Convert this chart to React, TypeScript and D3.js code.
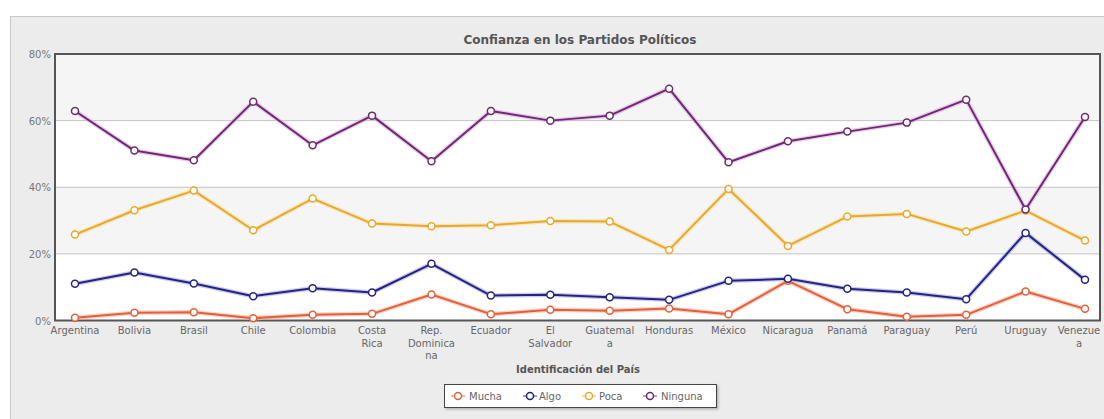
import React from "react";
import * as d3 from "d3";

const countries = ["Argentina","Bolivia","Brasil","Chile","Colombia","Costa Rica","Rep. Dominicana","Ecuador","El Salvador","Guatemala","Honduras","México","Nicaragua","Panamá","Paraguay","Perú","Uruguay","Venezuela"];
const countryLabels = [["Argentina"],["Bolivia"],["Brasil"],["Chile"],["Colombia"],["Costa","Rica"],["Rep.","Dominica","na"],["Ecuador"],["El","Salvador"],["Guatemal","a"],["Honduras"],["México"],["Nicaragua"],["Panamá"],["Paraguay"],["Perú"],["Uruguay"],["Venezue","a"]];

const mucha = [0.8,2.3,2.5,0.7,1.7,2.0,7.8,1.9,3.2,2.9,3.6,1.9,11.9,3.4,1.1,1.7,8.7,3.5];
const algo = [11.0,14.4,11.1,7.3,9.7,8.4,17.0,7.5,7.7,7.0,6.2,11.9,12.5,9.5,8.4,6.4,26.3,12.2];
const poca = [25.8,33.1,39.0,27.1,36.6,29.1,28.3,28.6,29.9,29.7,21.2,39.5,22.4,31.2,32.0,26.7,33.0,24.0];
const ninguna = [62.9,51.0,48.1,65.7,52.6,61.5,47.8,62.9,60.0,61.5,69.6,47.5,53.8,56.7,59.4,66.3,33.3,61.1];

const yTicks = [0, 20, 40, 60, 80];
const seriesNames = ["Mucha", "Algo", "Poca", "Ninguna"];
const seriesValues = [mucha, algo, poca, ninguna];
const seriesColors = ["#e2603b", "#25247f", "#e8a92a", "#6b2b6e"];
const glowColors = ["#f6b3a0", "#a9a9e6", "#f6dca0", "#e0a8e4"];

const FONT = "'DejaVu Sans', Verdana, sans-serif";

export default function App() {
  const plotL = 55, plotR = 1100, plotT = 54, plotB = 320.5;
  const x = d3.scalePoint<string>().domain(countries).range([75, 1085]);
  const y = d3.scaleLinear().domain([0, 80]).range([plotB, plotT]);
  const line = d3.line<number>().x((_, i) => x(countries[i]) as number).y((d) => y(d));

  const bands = [[60, 80, "#f5f5f5"], [40, 60, "#ffffff"], [20, 40, "#f5f5f5"], [0, 20, "#ffffff"]] as const;

  const legendX = [458, 530, 589, 650];
  const legendTextX = [469, 539, 599, 661];

  return (
    <svg width={1104} height={419} style={{ position: "absolute", left: 0, top: 0, fontFamily: FONT }}>
      <defs>
        <filter id="shadow" x="-10%" y="-30%" width="120%" height="160%">
          <feDropShadow dx="1.5" dy="1.5" stdDeviation="1" floodColor="#000" floodOpacity="0.25" />
        </filter>
      </defs>
      <rect x={0} y={0} width={1104} height={419} fill="#ffffff" />
      <rect x={10.5} y={16.5} width={1110} height={420} fill="#ececec" stroke="#c8c8c8" strokeWidth={1} />
      <text x={580} y={44} textAnchor="middle" fontSize={12} fontWeight="bold" fill="#555">
        Confianza en los Partidos Políticos
      </text>
      {bands.map(([a, b, c], i) => (
        <rect key={i} x={plotL} y={y(b)} width={plotR - plotL} height={y(a) - y(b)} fill={c} />
      ))}
      {[20, 40, 60].map((t) => (
        <line key={t} x1={plotL} x2={plotR} y1={y(t)} y2={y(t)} stroke="#c4c4c4" strokeWidth={1} />
      ))}
      <rect x={plotL} y={plotT} width={plotR - plotL} height={plotB - plotT} fill="none" stroke="#555" strokeWidth={2} />
      {yTicks.map((t) => (
        <text key={t} x={51} y={y(t) + 4} textAnchor="end" fontSize={10} fill="#777">
          {t}%
        </text>
      ))}
      {countryLabels.map((lines, i) => {
        const cx = Math.min(x(countries[i]) as number, 1079);
        return (
          <text key={i} x={cx} y={334} textAnchor="middle" fontSize={10} fill="#666">
            {lines.map((l, j) => (
              <tspan key={j} x={cx} dy={j === 0 ? 0 : 12.5}>{l}</tspan>
            ))}
          </text>
        );
      })}
      <text x={578} y={373} textAnchor="middle" fontSize={10} fontWeight="bold" fill="#555">
        Identificación del País
      </text>
      {seriesValues.map((vals, s) => (
        <g key={s}>
          <path d={line(vals) || ""} fill="none" stroke={glowColors[s]} strokeWidth={4.5} strokeOpacity={0.6} strokeLinejoin="round" />
          <path d={line(vals) || ""} fill="none" stroke={seriesColors[s]} strokeWidth={2} strokeLinejoin="round" />
          {vals.map((v, i) => (
            <circle key={i} cx={x(countries[i]) as number} cy={y(v)} r={3.5} fill="#fff" stroke={seriesColors[s]} strokeWidth={1.5} />
          ))}
        </g>
      ))}
      <rect x={444.5} y={384.5} width={272} height={23} fill="#fff" stroke="#444" strokeWidth={1} filter="url(#shadow)" />
      {seriesNames.map((n, s) => (
        <g key={n}>
          <line x1={legendX[s] - 7} x2={legendX[s] + 7} y1={396} y2={396} stroke={seriesColors[s]} strokeWidth={1.5} strokeOpacity={0.6} />
          <circle cx={legendX[s]} cy={396} r={3.5} fill="#fff" stroke={seriesColors[s]} strokeWidth={1.5} />
          <text x={legendTextX[s]} y={400} fontSize={10} fill="#666">{n}</text>
        </g>
      ))}
    </svg>
  );
}
